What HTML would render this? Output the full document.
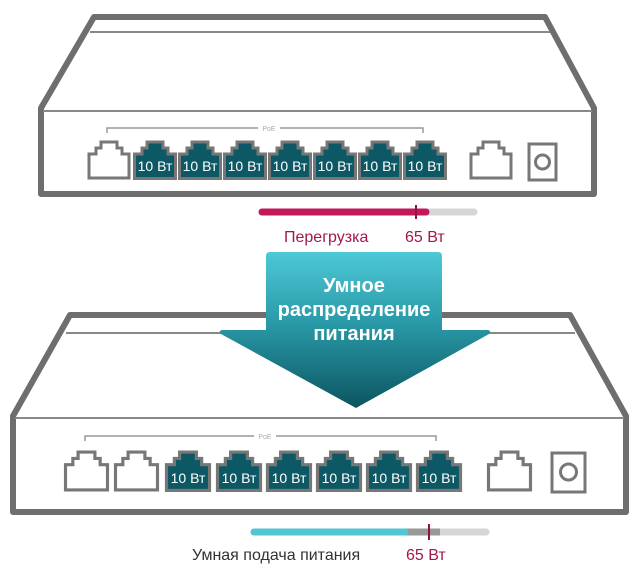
<!DOCTYPE html>
<html><head><meta charset="utf-8"><style>
html,body{margin:0;padding:0;background:#fff;width:640px;height:575px;overflow:hidden}
svg{display:block}
text{font-family:"Liberation Sans",sans-serif}
</style></head><body>
<svg width="640" height="575" viewBox="0 0 640 575" xmlns="http://www.w3.org/2000/svg">
<defs>
<linearGradient id="g" x1="0" y1="0" x2="0" y2="1">
<stop offset="0" stop-color="#4dc8d6"/><stop offset="0.45" stop-color="#2a9aa8"/><stop offset="1" stop-color="#0c5561"/>
</linearGradient>
<symbol id="pw" viewBox="0 0 44 40"><path d="M2 38 V14 H9 V8 H14 V2 H30 V8 H35 V14 H42 V38 Z" fill="#fff" stroke="#777" stroke-width="3"/></symbol>
<symbol id="pt" viewBox="0 0 44 40"><path d="M1.5 38.5 V14 H9 V8 H14 V2 H30 V8 H35 V14 H42.5 V38.5 Z" fill="#0d5865" stroke="#777" stroke-width="3"/></symbol>
</defs>

<!-- TOP SWITCH -->
<path d="M94 17 H545 L594 108 V194 H41 V108 Z" fill="#fff" stroke="#6e6e6e" stroke-width="6" stroke-linejoin="round"/>
<line x1="90" y1="32" x2="550" y2="32" stroke="#888" stroke-width="2"/>
<line x1="43" y1="111" x2="592" y2="111" stroke="#888" stroke-width="2"/>
<path d="M107 133 V128 H423 V133" fill="none" stroke="#999" stroke-width="1.5"/>
<rect x="258" y="123" width="22" height="10" fill="#fff"/>
<text x="269" y="131" font-size="7" fill="#aaa" text-anchor="middle">PoE</text>
<use href="#pw" x="87" y="140" width="44" height="40"/>
<g font-size="14" fill="#fff" text-anchor="middle">
<use href="#pt" x="133" y="140" width="44" height="40"/><text x="155" y="171">10 Вт</text>
<use href="#pt" x="178" y="140" width="44" height="40"/><text x="200" y="171">10 Вт</text>
<use href="#pt" x="223" y="140" width="44" height="40"/><text x="245" y="171">10 Вт</text>
<use href="#pt" x="268" y="140" width="44" height="40"/><text x="290" y="171">10 Вт</text>
<use href="#pt" x="313" y="140" width="44" height="40"/><text x="335" y="171">10 Вт</text>
<use href="#pt" x="358" y="140" width="44" height="40"/><text x="380" y="171">10 Вт</text>
<use href="#pt" x="403" y="140" width="44" height="40"/><text x="425" y="171">10 Вт</text>
</g>
<use href="#pw" x="469" y="140" width="44" height="40"/>
<rect x="529" y="144" width="27" height="36" fill="#fff" stroke="#777" stroke-width="3"/>
<circle cx="542.5" cy="162" r="7" fill="none" stroke="#777" stroke-width="3"/>

<line x1="262" y1="212" x2="474" y2="212" stroke="#d6d6d6" stroke-width="7" stroke-linecap="round"/>
<line x1="262" y1="212" x2="426" y2="212" stroke="#c2185b" stroke-width="7" stroke-linecap="round"/>
<line x1="416" y1="205" x2="416" y2="219" stroke="#8e1345" stroke-width="2"/>
<text x="284" y="242" font-size="16" fill="#a3174f">Перегрузка</text>
<text x="405" y="242" font-size="16" fill="#a3174f">65 Вт</text>

<!-- BOTTOM SWITCH -->
<path d="M70 315 H570 L626 416 V512 H13 V416 Z" fill="#fff" stroke="#6e6e6e" stroke-width="6" stroke-linejoin="round"/>
<line x1="66" y1="333" x2="575" y2="333" stroke="#888" stroke-width="2"/>
<line x1="15" y1="418" x2="624" y2="418" stroke="#888" stroke-width="2"/>
<path d="M85 441 V436 H436 V441" fill="none" stroke="#999" stroke-width="1.5"/>
<rect x="254" y="431" width="22" height="10" fill="#fff"/>
<text x="265" y="439" font-size="7" fill="#aaa" text-anchor="middle">PoE</text>
<use href="#pw" x="63" y="450" width="47" height="42"/>
<use href="#pw" x="113" y="450" width="47" height="42"/>
<g font-size="14" fill="#fff" text-anchor="middle">
<use href="#pt" x="164" y="450" width="48" height="42"/><text x="188" y="483">10 Вт</text>
<use href="#pt" x="215" y="450" width="48" height="42"/><text x="239" y="483">10 Вт</text>
<use href="#pt" x="265" y="450" width="48" height="42"/><text x="289" y="483">10 Вт</text>
<use href="#pt" x="315" y="450" width="48" height="42"/><text x="339" y="483">10 Вт</text>
<use href="#pt" x="365" y="450" width="48" height="42"/><text x="389" y="483">10 Вт</text>
<use href="#pt" x="415" y="450" width="48" height="42"/><text x="439" y="483">10 Вт</text>
</g>
<use href="#pw" x="485" y="450" width="49" height="42"/>
<rect x="552" y="453" width="33" height="39" fill="#fff" stroke="#777" stroke-width="3"/>
<circle cx="568.5" cy="472" r="8" fill="none" stroke="#777" stroke-width="3"/>

<line x1="254" y1="532" x2="486" y2="532" stroke="#d6d6d6" stroke-width="7" stroke-linecap="round"/>
<line x1="405" y1="532" x2="440" y2="532" stroke="#999" stroke-width="7"/>
<line x1="254" y1="532" x2="405" y2="532" stroke="#4fc7d3" stroke-width="7" stroke-linecap="round"/>
<line x1="429" y1="524" x2="429" y2="540" stroke="#8e1345" stroke-width="2"/>
<text x="192" y="560" font-size="16" fill="#333">Умная подача питания</text>
<text x="406" y="560" font-size="16" fill="#a3174f">65 Вт</text>

<!-- ARROW -->
<path d="M270 252 H438 Q442 252 442 256 V330 H488 Q492 331 489 334 L356 408 L221 334 Q218 331 222 330 H266 V256 Q266 252 270 252 Z" fill="url(#g)"/>
<g font-size="20" font-weight="bold" fill="#fff" text-anchor="middle">
<text x="354" y="292">Умное</text>
<text x="354" y="316">распределение</text>
<text x="354" y="340">питания</text>
</g>
</svg>
</body></html>
